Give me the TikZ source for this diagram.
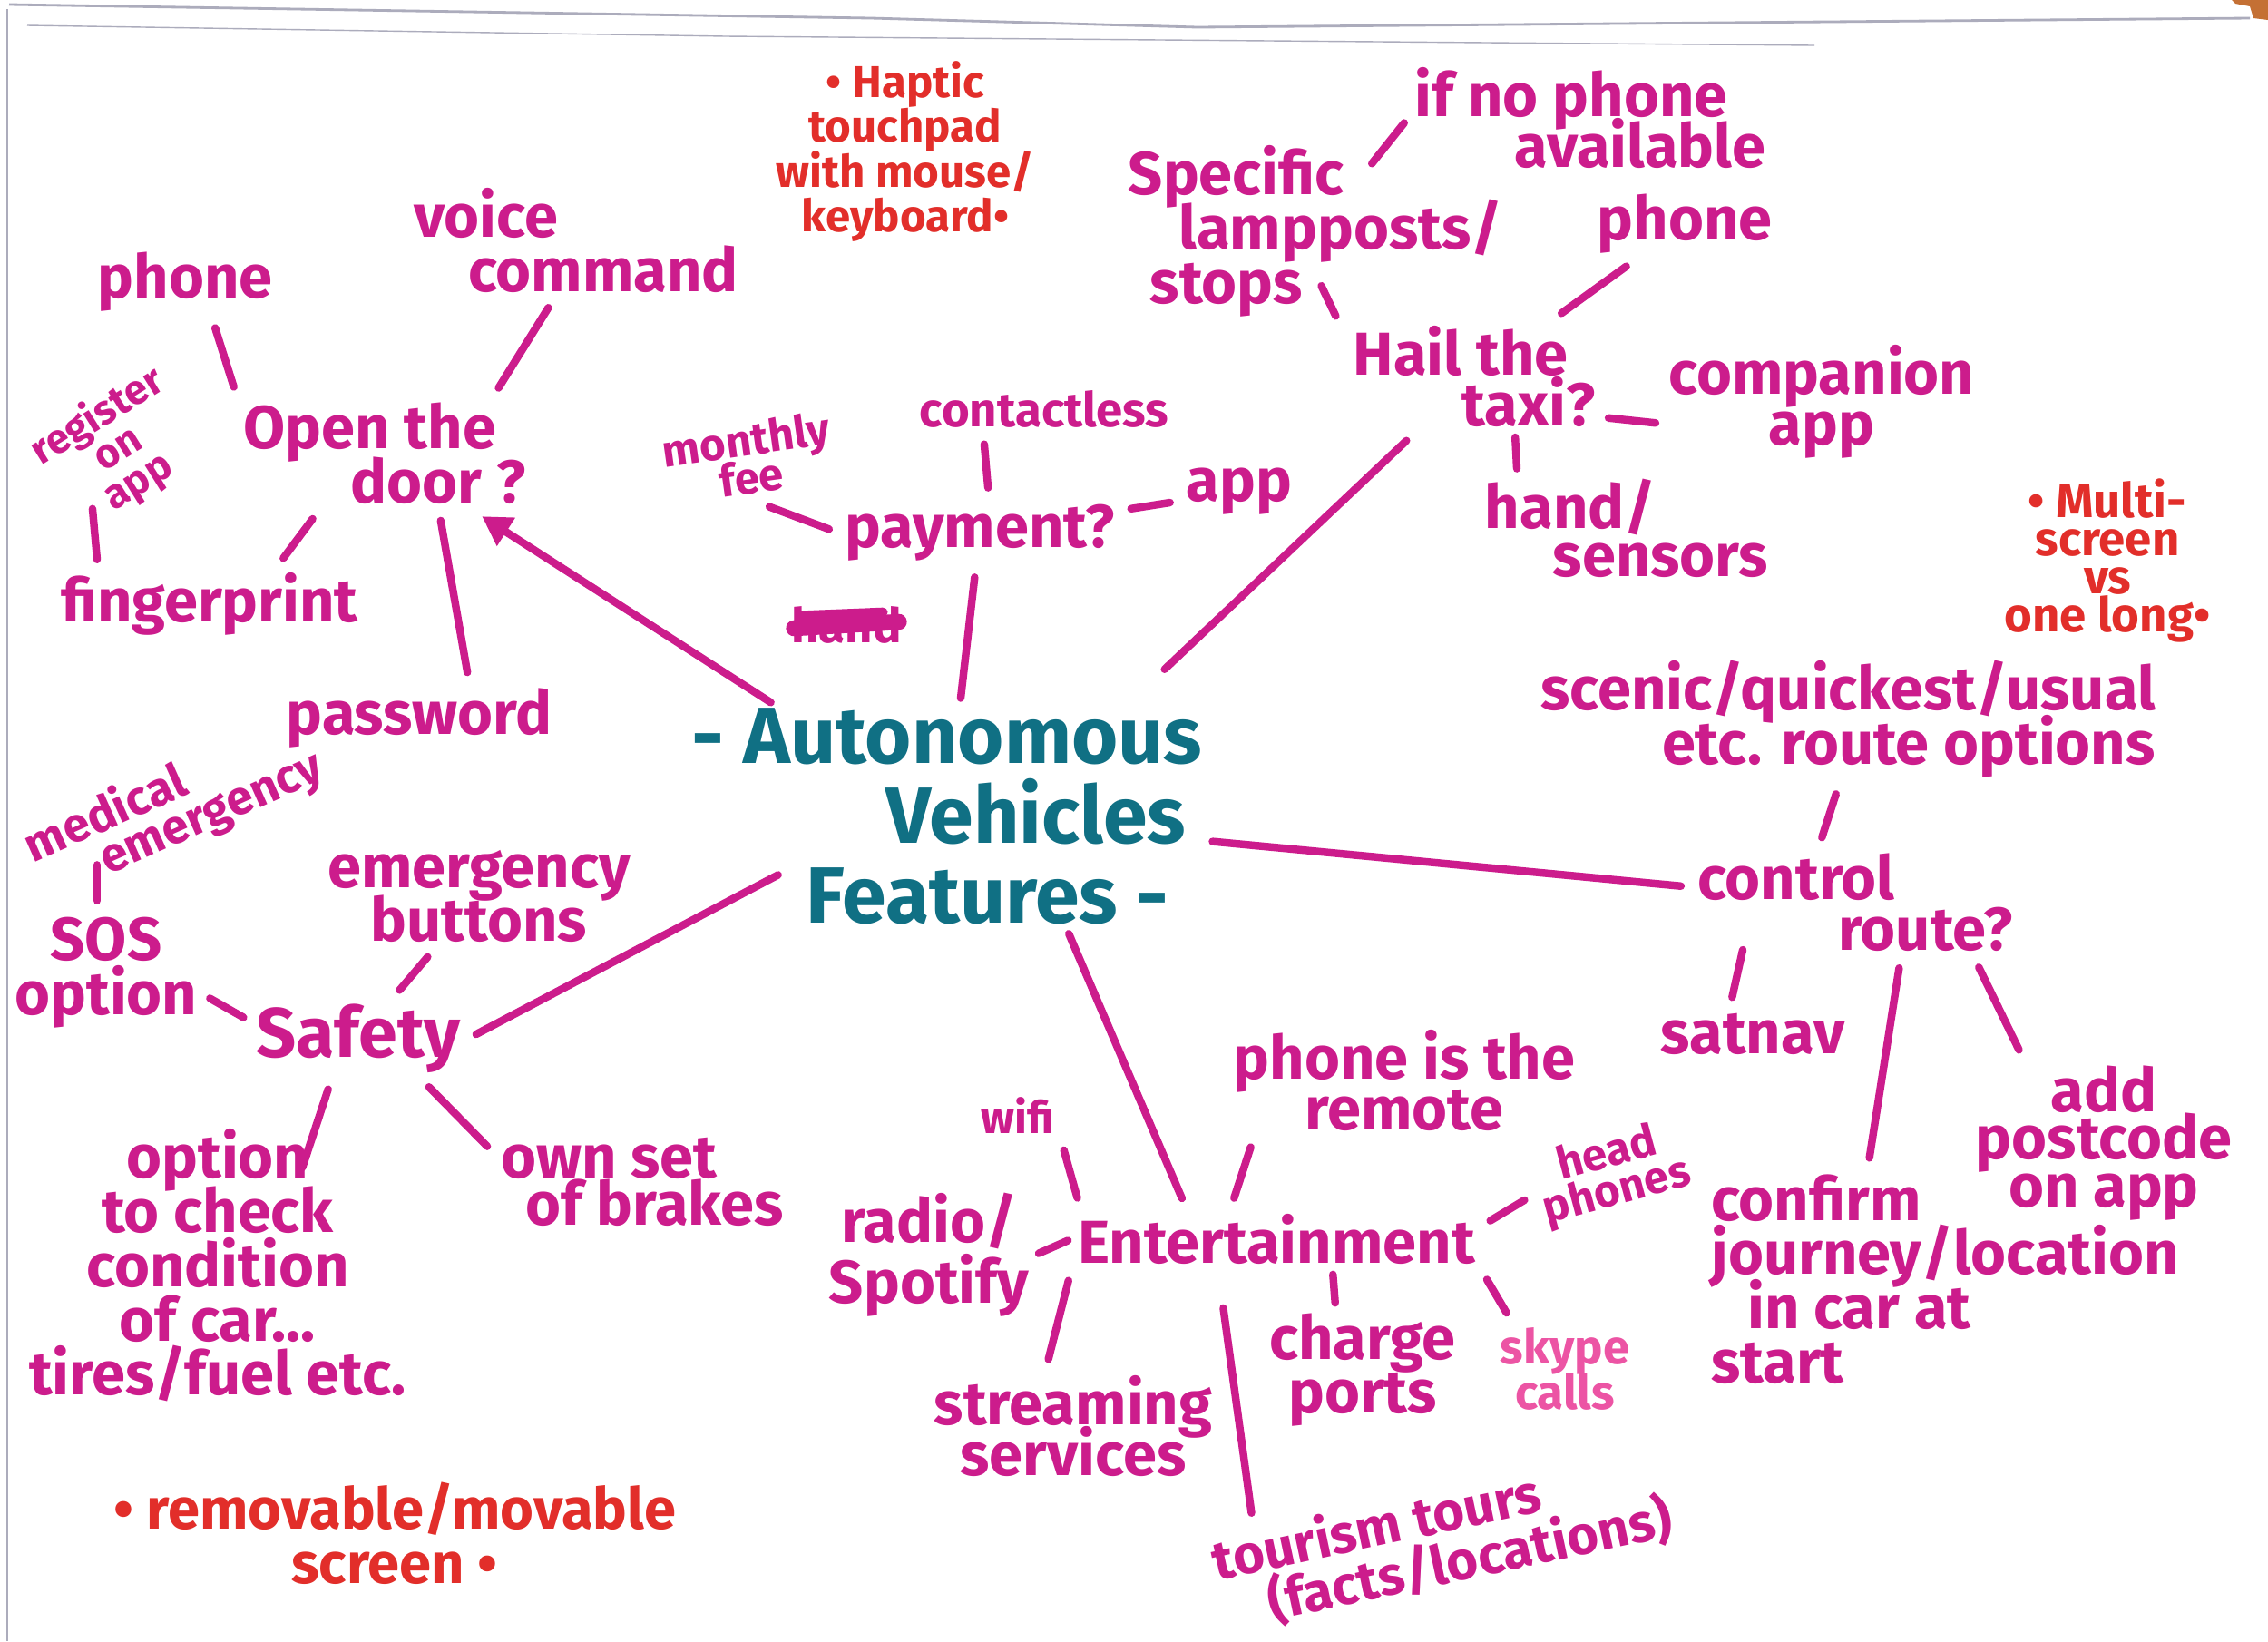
\documentclass[tikz,border=0pt]{standalone}
\usepackage{fontspec}
\setmainfont{Fira Sans}
\usetikzlibrary{arrows.meta}
\definecolor{inkpink}{RGB}{204,28,140}
\definecolor{inklight}{RGB}{236,84,164}
\definecolor{inkteal}{RGB}{16,112,132}
\definecolor{inkred}{RGB}{226,46,42}
\definecolor{paperedge}{RGB}{172,172,188}
\definecolor{deskbrown}{RGB}{196,112,52}
\lineskiplimit=-30pt

\begin{document}
\begin{tikzpicture}[
	word/.style={text=inkpink, font=\bfseries\fontsize{19}{17}\selectfont, align=center, inner sep=2pt},
	small/.style={word, font=\bfseries\fontsize{14}{12}\selectfont},
	memo/.style={text=inkred, font=\bfseries\fontsize{14}{14}\selectfont, align=center, inner sep=1pt},
	hub/.style={text=inkteal, font=\bfseries\fontsize{25}{25}\selectfont, align=left, inner sep=0pt},
	link/.style={draw=inkpink, line width=2.4pt, line cap=round, shorten <=3pt, shorten >=3pt}]
	% Paper:
	\useasboundingbox (0,0) rectangle (25,-18.09);
	\fill[white] (0,0) rectangle (25,-18.09);
	\fill[deskbrown] (24.6,0) -- (25,0) -- (25,-0.22) -- (24.84,-0.2) -- (24.8,-0.07) -- (24.64,-0.04) -- cycle;
	\draw[paperedge, line width=0.8pt] (0.1,-0.05) -- (9.6,-0.2) -- (13.2,-0.3) -- (24.8,-0.2);
	\draw[paperedge, line width=0.4pt] (0.3,-0.28) -- (8,-0.4) -- (20,-0.5);
	\draw[paperedge, line width=0.8pt] (0.08,-0.1) -- (0.08,-18.09);

	% Centre:
	\node[hub, anchor=north west] (hub) at (7.62,-7.8) {- Autonomous\\\hspace*{2.14cm}Vehicles\\\hspace*{1.26cm}Features -};

	% Open the door?
	\node[word, align=left] (door) at (4.24,-5.0) {Open the\\\hspace*{1.18cm}door ?};
	\node[word] (phonea) at (2.04,-3.11) {phone};
	\node[word, align=left] (voice) at (6.35,-2.65) {voice\\\hspace*{0.6cm}command};
	\node[small, font=\bfseries\fontsize{13}{12}\selectfont, rotate=32] (register) at (1.3,-4.95) {register\\on\\app};
	\node[word] (finger) at (2.31,-6.66) {fingerprint};
	\node[word] (password) at (4.62,-7.92) {password};
	\draw[link] ([xshift=0.3cm]phonea.south) -- (door.north west);
	\draw[link] ([xshift=-0.25cm]voice.south) -- ([xshift=1.2cm]door.north);
	\draw[link, shorten <=2pt, shorten >=1pt] ([xshift=0.48cm]finger.north west) -- ([xshift=0.42cm]finger.north west |- register.south);
	\draw[link] ([xshift=0.75cm]finger.north) -- ([xshift=0.9cm]door.south west);
	\draw[link] ([xshift=0.55cm]password.north) -- ([xshift=0.6cm]door.south);
	\draw[link, -{Triangle[length=9pt, width=10pt]}] (hub) -- (door);

	% payment?
	\node[word] (payment) at (10.8,-5.87) {payment?};
	\node[word] (appa) at (13.66,-5.42) {app};
	\node[small, font=\bfseries\fontsize{15}{13}\selectfont] (contact) at (11.51,-4.51) {contactless};
	\node[small, rotate=8] (monthly) at (8.25,-5.05) {monthly\\fee};
	\node[small, font=\bfseries\fontsize{15}{13}\selectfont] (scrib) at (9.33,-6.89) {hand};
	\draw[inkpink, line width=5pt, line cap=round] ([xshift=3pt, yshift=-1pt]scrib.west) -- ([xshift=-3pt, yshift=1pt]scrib.east);
	\draw[inkpink, line width=3pt, line cap=round] ([xshift=6pt, yshift=3pt]scrib.west) -- ([xshift=-8pt, yshift=4pt]scrib.east);
	\draw[link] ([xshift=-0.67cm]contact.south) -- ([xshift=0.1cm]payment.north);
	\draw[link, shorten <=5pt] (monthly.south) -- (payment.west);
	\draw[link] (payment) -- (appa);
	\draw[link] (hub) -- (payment);

	% Hail the taxi?
	\node[word, align=left, font=\bfseries\fontsize{19}{16}\selectfont] (hail) at (16.25,-4.15) {Hail the\\\hspace*{1.2cm}taxi?};
	\node[word, align=left] (specific) at (14.5,-2.55) {Specific\\\hspace*{0.56cm}lampposts/\\\hspace*{0.24cm}stops};
	\node[word, align=left, font=\bfseries\fontsize{19}{16}\selectfont] (ifno) at (17.53,-1.3) {if no phone\\\hspace*{1.1cm}available};
	\node[word] (phoneb) at (18.57,-2.47) {phone};
	\node[word, font=\bfseries\fontsize{19}{16}\selectfont] (companion) at (20.08,-4.43) {companion\\app};
	\node[word, align=left, font=\bfseries\fontsize{19}{15}\selectfont] (sensors) at (17.93,-5.82) {hand/\\\hspace*{0.75cm}sensors};
	\draw[link, shorten <=1pt, shorten >=1pt] ([xshift=0.05cm, yshift=0.45cm]specific.south) -- ([xshift=-0.1cm]hail.north west);
	\draw[link, shorten <=1pt, shorten >=2pt] ([xshift=0.6cm, yshift=-0.3cm]specific.north) -- (ifno.west);
	\draw[link] (hail) -- (phoneb);
	\draw[link, shorten <=2pt, shorten >=2pt] ([yshift=-0.45cm]hail.east) -- ([yshift=-0.24cm]companion.west);
	\draw[link, shorten <=1pt, shorten >=1pt] ([xshift=0.45cm]hail.south) -- ([xshift=0.43cm]sensors.north west);
	\draw[link] ([xshift=-0.5cm, yshift=0.35cm]hub.north east) -- (hail);

	% notes in red
	\node[memo] (haptic) at (9.98,-1.67) {• Haptic\\touchpad\\with mouse/\\keyboard•};
	\node[memo, font=\bfseries\fontsize{15}{12}\selectfont] (multi) at (23.23,-6.18) {• Multi-\\screen\\vs\\one long•};
	\node[memo, font=\bfseries\fontsize{18}{17}\selectfont] (removable) at (4.35,-16.9) {• removable/movable\\screen •};

	% control route?
	\node[word, align=right] (options) at (20.37,-7.93) {scenic/quickest/usual\\etc. route options};
	\node[word, align=left, font=\bfseries\fontsize{19}{16}\selectfont] (control) at (20.45,-9.95) {control\\\hspace*{1.55cm}route?};
	\node[word] (satnav) at (19.32,-11.4) {satnav};
	\node[word, font=\bfseries\fontsize{19}{15}\selectfont] (postcode) at (23.19,-12.6) {add\\postcode\\on app};
	\node[word, align=left] (confirm) at (21.44,-14.1) {confirm\\journey/location\\\hspace*{0.4cm}in car at\\start};
	\draw[link] (hub) -- (control);
	\draw[link] ([xshift=-0.4cm]control.north) -- ([xshift=-0.1cm]options.south);
	\draw[link] ([xshift=0.6cm, yshift=0.2cm]control.south west) -- ([xshift=-0.25cm]satnav.north);
	\draw[link] ([xshift=-0.5cm]control.south east) -- ([xshift=0.6cm]postcode.north west);
	\draw[link] ([xshift=0.5cm]control.south) -- ([xshift=-0.85cm]confirm.north);

	% Safety
	\node[word, font=\bfseries\fontsize{22}{20}\selectfont] (safety) at (3.95,-11.45) {Safety};
	\node[word] (emerg) at (5.28,-9.88) {emergency\\buttons};
	\node[word] (sos) at (1.17,-10.72) {SOS\\option};
	\node[small, align=left, font=\bfseries\fontsize{15}{13}\selectfont, rotate=24] (medical) at (1.92,-8.9) {medical\\\hspace*{0.7cm}emergency};
	\node[word] (check) at (2.4,-13.95) {option\\to check\\condition\\of car...\\tires/fuel etc.};
	\node[word, align=left, font=\bfseries\fontsize{19}{15}\selectfont] (brakes) at (7.08,-13.03) {own set\\\hspace*{0.27cm}of brakes};
	\draw[link] (safety.east) -- ([xshift=1.05cm, yshift=0.6cm]hub.south west);
	\draw[link] (safety) -- (emerg);
	\draw[link, shorten <=2pt, shorten >=2pt] ([yshift=-0.25cm]sos.east) -- ([yshift=0.2cm]safety.west);
	\draw[link] ([xshift=-0.1cm]sos.north) -- ([xshift=-0.1cm]sos.north |- medical.south);
	\draw[link] ([xshift=-0.3cm]safety.south) -- ([xshift=0.9cm, yshift=-0.6cm]check.north);
	\draw[link] ([xshift=-0.5cm]safety.south east) -- ([yshift=-0.25cm]brakes.north west);

	% Entertainment
	\node[word] (ent) at (14.07,-13.66) {Entertainment};
	\node[small] (wifi) at (11.22,-12.3) {wifi};
	\node[word, font=\bfseries\fontsize{19}{19}\selectfont] (radio) at (10.24,-13.83) {radio/\\Spotify};
	\node[word, font=\bfseries\fontsize{19}{16}\selectfont] (stream) at (11.83,-15.72) {streaming\\services};
	\node[word, font=\bfseries\fontsize{19}{16}\selectfont] (remote) at (15.48,-11.91) {phone is the\\remote};
	\node[small, rotate=15] (headph) at (17.77,-12.94) {head\\phones};
	\node[word] (charge) at (15.02,-15.1) {charge\\ports};
	\node[word, text=inklight, font=\bfseries\fontsize{15}{14}\selectfont] (skype) at (17.25,-15.09) {skype\\calls};
	\node[word, align=left, rotate=12, font=\bfseries\fontsize{17}{16}\selectfont] (tourism) at (15.9,-16.98) {tourism tours\\\hspace*{0.5cm}(facts/locations)};
	\draw[link] ([xshift=1.3cm]hub.south) -- ([xshift=-1.0cm]ent.north);
	\draw[link] (wifi.south east) -- ([xshift=0.1cm]ent.north west);
	\draw[link, shorten <=1pt, shorten >=1pt] (radio.east) -- (ent.west);
	\draw[link] (ent.south west) -- ([xshift=-0.3cm]stream.north);
	\draw[link] ([xshift=-0.5cm]ent.north) -- ([xshift=0.3cm]remote.south west);
	\draw[link] ([yshift=0.15cm]ent.east) -- (headph.west);
	\draw[link, shorten <=1pt, shorten >=1pt] ([xshift=0.62cm]ent.south) -- ([xshift=-0.3cm]charge.north);
	\draw[link] (ent.south east) -- ([xshift=0.2cm]skype.north west);
	\draw[link, shorten >=6pt] ([xshift=-0.6cm, yshift=-0.3cm]ent.south) -- ([xshift=0.6cm]tourism.north west);
\end{tikzpicture}
\end{document}
